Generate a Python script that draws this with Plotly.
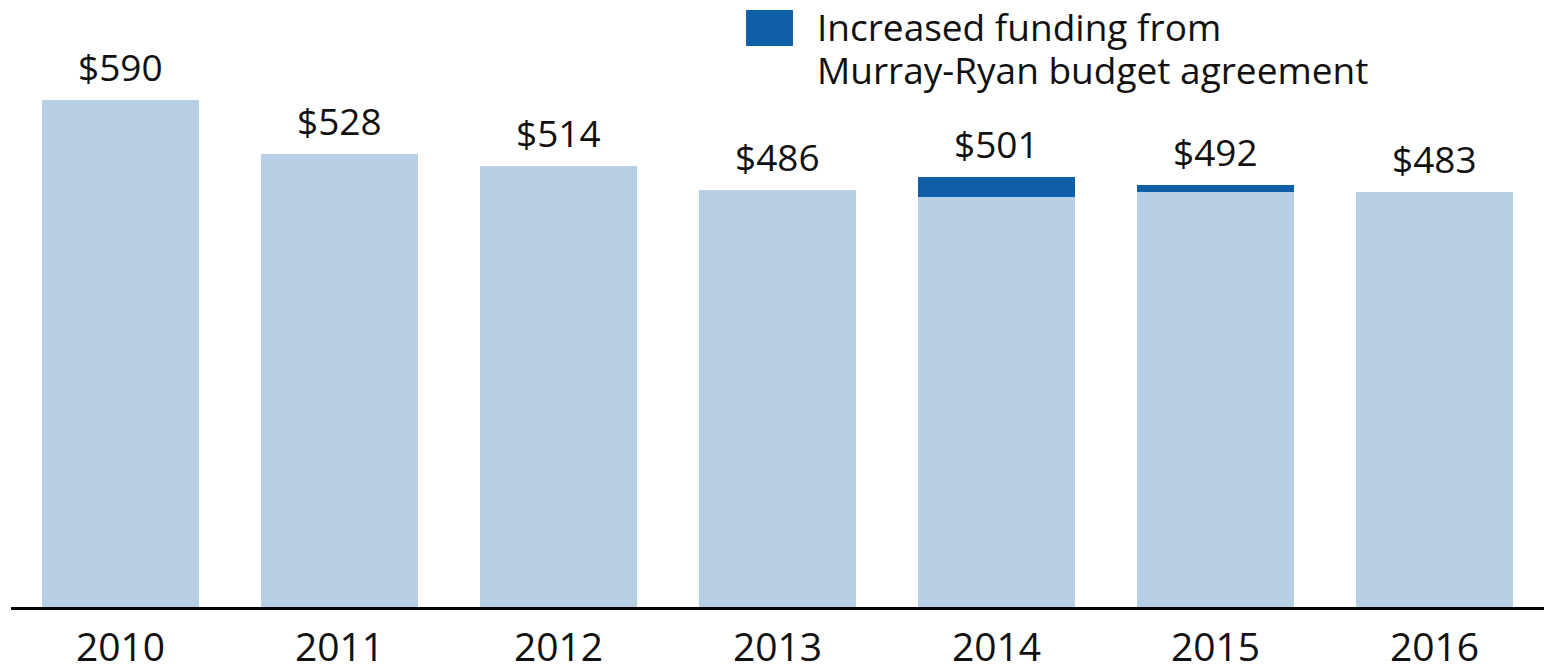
import plotly.graph_objects as go

years = ["2010", "2011", "2012", "2013", "2014", "2015", "2016"]
base_funding = [590, 528, 514, 486, 478, 483, 483]
murray_ryan_increase = [0, 0, 0, 0, 23, 9, 0]
total_labels = ["$590", "$528", "$514", "$486", "$501", "$492", "$483"]

LIGHT = "#b7cfe5"
DARK = "#0f5fa8"
FONT = "Open Sans"

fig = go.Figure()
fig.add_trace(go.Bar(x=years, y=base_funding, marker=dict(color=LIGHT, line=dict(width=0)),
                     showlegend=False, hoverinfo="skip"))
fig.add_trace(go.Bar(x=years, y=murray_ryan_increase, marker=dict(color=DARK, line=dict(width=0)),
                     name="Increased funding from Murray-Ryan budget agreement",
                     showlegend=False, hoverinfo="skip"))

totals = [b + i for b, i in zip(base_funding, murray_ryan_increase)]
for idx, (tot, lab) in enumerate(zip(totals, total_labels)):
    fig.add_annotation(x=idx, y=tot, text=lab, showarrow=False, yanchor="bottom",
                       yshift=6, font=dict(family=FONT, size=37, color="#111111"))

# legend swatch + text
fig.add_shape(type="rect", xref="paper", yref="paper", x0=0.4795, x1=0.5101,
              y0=0.9334, y1=0.9933, fillcolor=DARK, line=dict(width=0))
fig.add_annotation(xref="paper", yref="paper", x=0.5245, y=0.9667, xanchor="left",
                   yanchor="middle", text="Increased funding from", showarrow=False,
                   font=dict(family=FONT, size=37, color="#111111"))
fig.add_annotation(xref="paper", yref="paper", x=0.5245, y=0.895, xanchor="left",
                   yanchor="middle", text="Murray-Ryan budget agreement", showarrow=False,
                   font=dict(family=FONT, size=37, color="#111111"))

fig.update_layout(
    barmode="stack", bargap=0.28,
    width=1544, height=664,
    margin=dict(l=11, r=0, t=6, b=57),
    paper_bgcolor="white", plot_bgcolor="white",
    xaxis=dict(type="category", range=[-0.5, 6.5],
               showline=True, linecolor="black", linewidth=3, ticks="",
               ticklabelstandoff=4,
               tickfont=dict(family=FONT, size=39, color="#111111"),
               showgrid=False, zeroline=False, automargin=False, fixedrange=True),
    yaxis=dict(range=[0, 700], visible=False, showgrid=False, zeroline=False,
               automargin=False, fixedrange=True),
)
fig.write_html("out.html", config={"displayModeBar": False},
               post_script="document.body.style.margin='0';document.body.style.padding='0';")
